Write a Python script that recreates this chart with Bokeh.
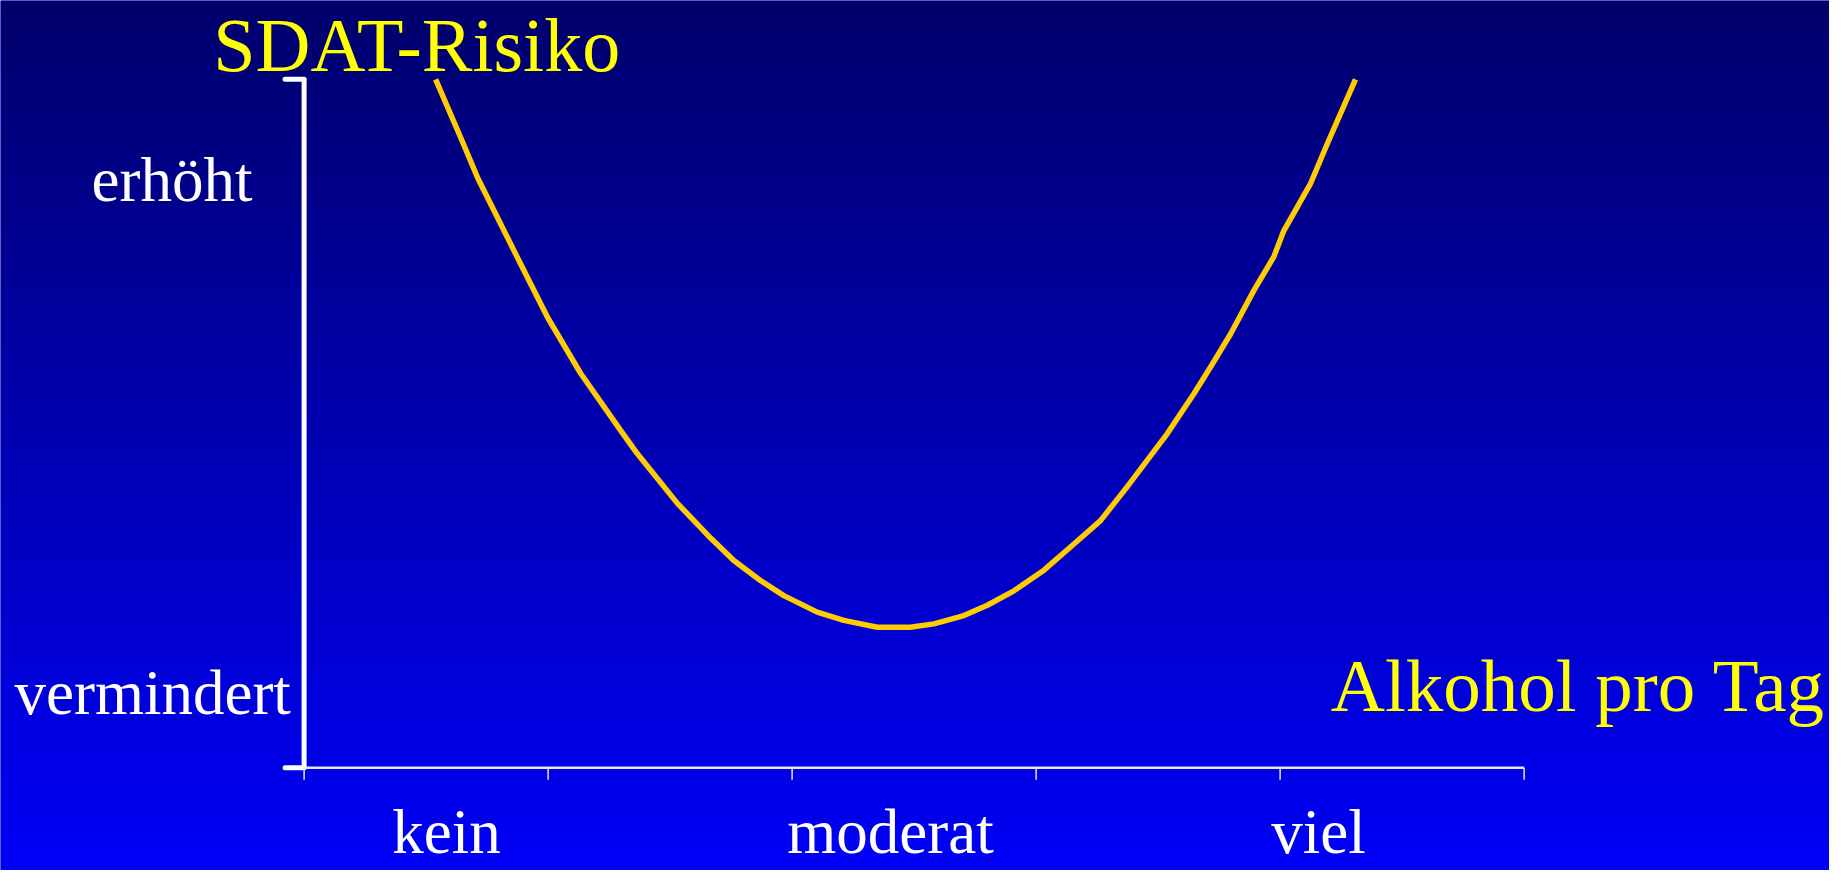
import numpy as np
from bokeh.plotting import figure
from bokeh.models import Range1d
from bokeh.core.properties import value
from bokeh.embed import file_html
from bokeh.resources import INLINE

# ---- data ----
alkohol = [0.539, 0.653, 0.711, 0.887, 0.998, 1.133, 1.297, 1.366, 1.530, 1.665,
           1.761, 1.870, 1.966, 2.103, 2.212, 2.349, 2.485, 2.581, 2.704, 2.800,
           2.909, 3.032, 3.155, 3.264, 3.373, 3.537, 3.646, 3.715, 3.797, 3.892,
           3.974, 4.015, 4.124, 4.193, 4.309]
risiko = [10.0, 9.06, 8.57, 7.32, 6.54, 5.73, 4.90, 4.56, 3.84, 3.34,
          3.01, 2.72, 2.50, 2.26, 2.14, 2.04, 2.04, 2.09, 2.21, 2.36,
          2.57, 2.87, 3.25, 3.59, 4.08, 4.85, 5.43, 5.82, 6.30, 6.93,
          7.42, 7.80, 8.48, 9.06, 10.0]
x_ticks = [0, 1, 2, 3, 4, 5]
x_labels = ["kein", "moderat", "viel"]
x_label_pos = [0.584, 2.403, 4.157]
y_labels = ["erhöht", "vermindert"]
y_title = "SDAT-Risiko"
x_title = "Alkohol pro Tag"
y_top = 10.0

W, H = 1829, 870
X0, X1 = -1.2443, 6.2516
Y0, Y1 = -1.493, 11.145

p = figure(width=W, height=H, output_backend="svg", toolbar_location=None,
           x_range=Range1d(X0, X1), y_range=Range1d(Y0, Y1),
           min_border=0, min_border_left=0, min_border_right=0,
           min_border_top=0, min_border_bottom=0)
p.axis.visible = False
p.grid.visible = False
p.outline_line_color = None
p.background_fill_color = "#0000B0"
p.border_fill_color = "#0000B0"

# vertical gradient background
n = 256
top = np.array([0, 0, 108])
bot = np.array([0, 0, 248])
img = np.zeros((n, 1), dtype=np.uint32)
view = img.view(dtype=np.uint8).reshape((n, 1, 4))
for i in range(n):
    t = i / (n - 1)  # row 0 = bottom
    c = bot * (1 - t) + top * t
    view[i, 0, 0] = int(c[0]); view[i, 0, 1] = int(c[1]); view[i, 0, 2] = int(c[2]); view[i, 0, 3] = 255
p.image_rgba(image=[img], x=X0, y=Y0, dw=X1 - X0, dh=Y1 - Y0)

# y axis (white, thick, with small caps)
cap = 0.078
p.line(x=[0, 0], y=[0, y_top], line_color="white", line_width=5)
p.segment(x0=[-cap, -cap], y0=[0, y_top], x1=[0, 0], y1=[0, y_top],
          line_color="white", line_width=5, line_cap="round")
# x axis
p.line(x=[x_ticks[0], x_ticks[-1]], y=[0, 0], line_color="#E8E8FF", line_width=2.5)
p.segment(x0=x_ticks, y0=[0] * len(x_ticks), x1=x_ticks, y1=[-0.175] * len(x_ticks),
          line_color="#E8E8FF", line_width=1.5)

# curve
p.line(x=alkohol, y=risiko, line_color="#FFCC00", line_width=5.5, line_join="round")

serif = value("Liberation Serif")
# category labels on x
p.text(x=x_label_pos, y=[-0.93] * 3, text=x_labels, text_font=serif,
       text_font_size="63px", text_color="white", text_align="center",
       text_baseline="alphabetic")
# y labels
p.text(x=[-0.871, -1.187], y=[8.543, 1.091], text=y_labels, text_font=serif,
       text_font_size="63px", text_color="white", text_align="left",
       text_baseline="alphabetic")
# titles
p.text(x=[-0.372], y=[10.5], text=[y_title], text_font=serif,
       text_font_size="76px", text_color="#FFFF00", text_align="left",
       text_baseline="alphabetic")
p.text(x=[6.235], y=[1.2], text=[x_title], text_font=serif,
       text_font_size="75px", text_color="#FFFF00", text_align="right",
       text_baseline="alphabetic")

open("out.html", "w").write(file_html(p, INLINE))
